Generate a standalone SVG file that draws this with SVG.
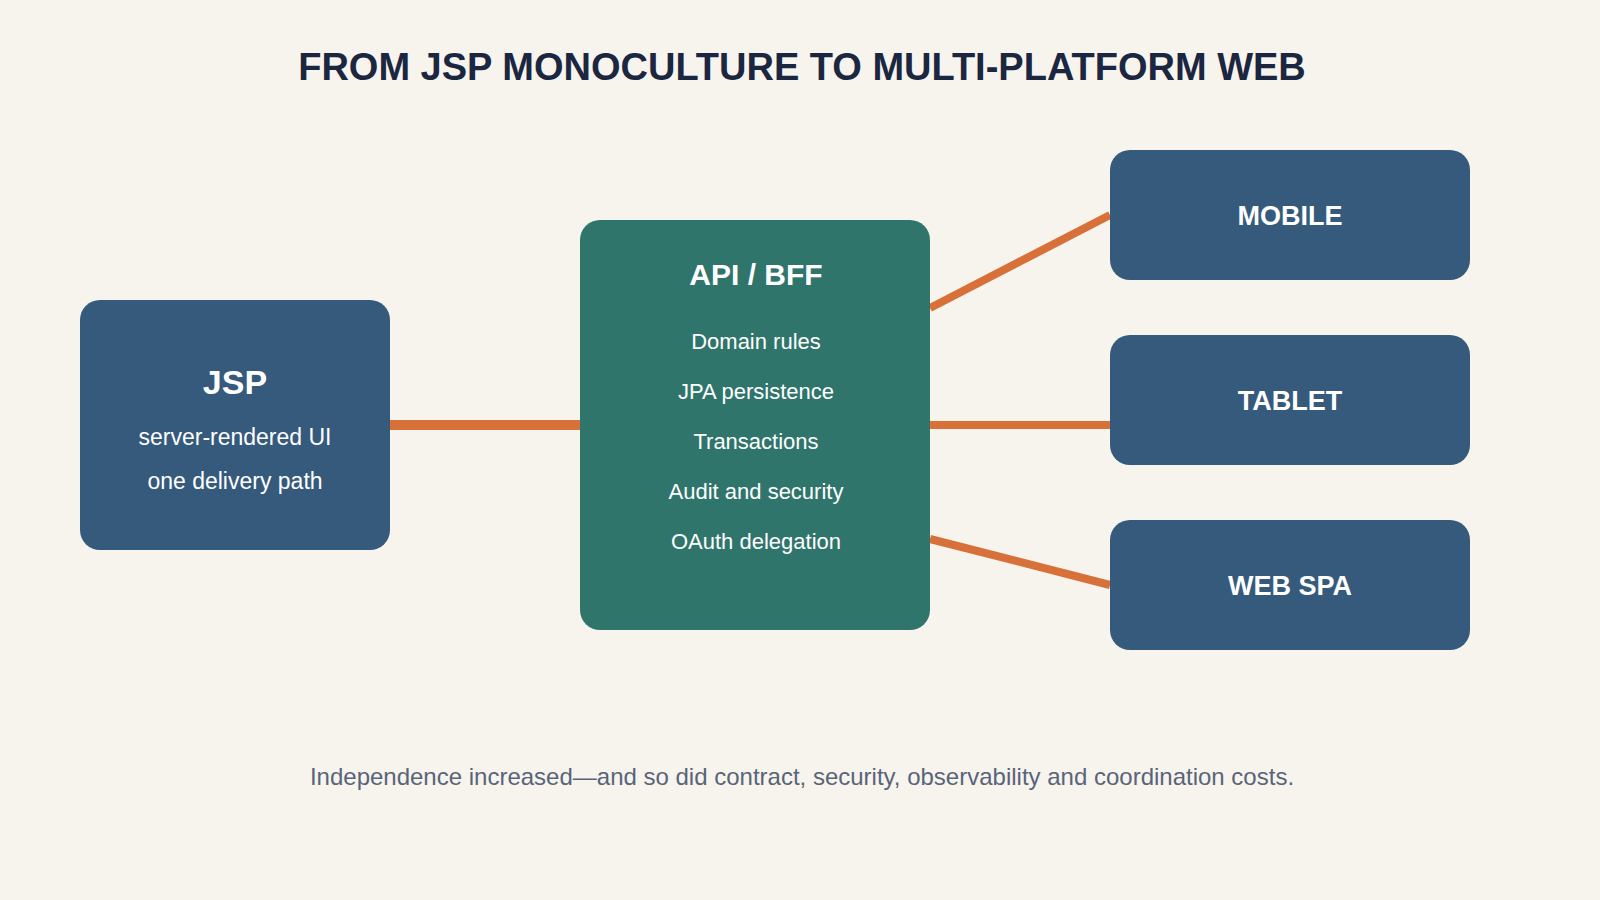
<svg xmlns="http://www.w3.org/2000/svg" width="1600" height="900" viewBox="0 0 1600 900">
<style>
.bg{fill:#f7f4ee}
.blue{fill:#355a7c}
.green{fill:#2f756b}
.edge{stroke:#d8703a;stroke-width:8;fill:none}
.t{font-family:"Liberation Sans",Arial,sans-serif;fill:#ffffff;text-anchor:middle}
.h{font-weight:bold;font-size:30px}
.s{font-size:22px}
.r{font-weight:bold;font-size:27px}
.title{font-family:"Liberation Sans",Arial,sans-serif;font-weight:bold;font-size:38px;fill:#1b2740;text-anchor:middle}
.foot{font-family:"Liberation Sans",Arial,sans-serif;font-size:24px;fill:#596479;text-anchor:middle}
</style>
<rect class="bg" x="0" y="0" width="1600" height="900"/>
<text class="title" x="802" y="80">FROM JSP MONOCULTURE TO MULTI-PLATFORM WEB</text>
<g id="connectors">
<line class="edge" x1="390" y1="425" x2="580" y2="425" style="stroke-width:10"/>
<line class="edge" x1="930" y1="308" x2="1110" y2="215"/>
<line class="edge" x1="930" y1="425" x2="1110" y2="425"/>
<line class="edge" x1="930" y1="539" x2="1110" y2="585"/>
</g>
<g id="jsp">
<rect class="blue" x="80" y="300" width="310" height="250" rx="20"/>
<text class="t h" x="235" y="394" style="font-size:34px">JSP</text>
<text class="t s" x="235" y="445" style="font-size:23px">server-rendered UI</text>
<text class="t s" x="235" y="489" style="font-size:23px">one delivery path</text>
</g>
<g id="api">
<rect class="green" x="580" y="220" width="350" height="410" rx="20"/>
<text class="t h" x="756" y="285">API / BFF</text>
<text class="t s" x="756" y="349">Domain rules</text>
<text class="t s" x="756" y="399">JPA persistence</text>
<text class="t s" x="756" y="449">Transactions</text>
<text class="t s" x="756" y="499">Audit and security</text>
<text class="t s" x="756" y="549">OAuth delegation</text>
</g>
<g id="mobile">
<rect class="blue" x="1110" y="150" width="360" height="130" rx="20"/>
<text class="t r" x="1290" y="225">MOBILE</text>
</g>
<g id="tablet">
<rect class="blue" x="1110" y="335" width="360" height="130" rx="20"/>
<text class="t r" x="1290" y="410">TABLET</text>
</g>
<g id="webspa">
<rect class="blue" x="1110" y="520" width="360" height="130" rx="20"/>
<text class="t r" x="1290" y="595">WEB SPA</text>
</g>
<text class="foot" x="802" y="785">Independence increased—and so did contract, security, observability and coordination costs.</text>
</svg>
